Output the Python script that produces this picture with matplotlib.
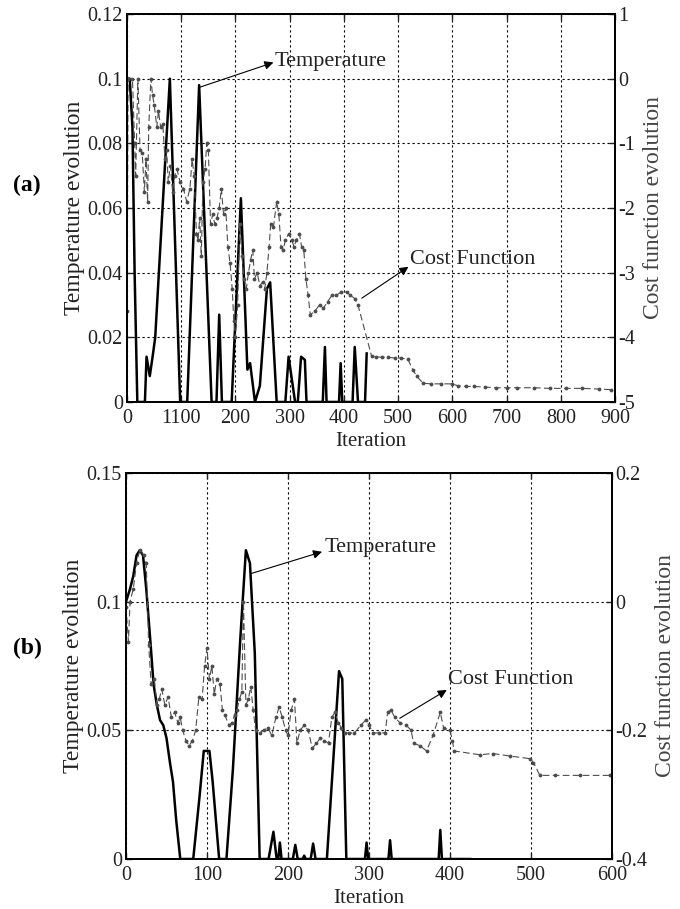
import matplotlib
matplotlib.use('Agg')
import matplotlib.pyplot as plt

plt.rcParams['font.family'] = ['Liberation Serif', 'DejaVu Serif']
plt.rcParams['font.size'] = 13

# ---- panel (a) data ----
temp_a_x = [0, 5, 10, 14, 19, 33, 36, 42, 48, 52, 79, 98, 111, 133, 156, 165,
            170, 175, 193, 210, 222, 227, 236, 245, 258, 264, 276, 292, 298,
            310, 315, 321, 328, 331, 361, 365, 368, 391, 394, 397, 416, 420,
            426, 439, 442]
temp_a_y = [0.1, 0.1, 0.085, 0.04, 0, 0, 0.014, 0.008, 0.015, 0.02, 0.1, 0, 0,
            0.098, 0, 0, 0.027, 0, 0, 0.063, 0.01, 0.012, 0, 0.005, 0.035,
            0.037, 0, 0, 0.014, 0, 0, 0.014, 0.013, 0, 0, 0.017, 0, 0, 0.012,
            0, 0, 0.017, 0, 0, 0.015]

cost_a_x = [0, 2, 10, 14, 16, 20, 24, 28, 32, 35, 38, 40, 44, 47, 50, 55, 58,
            62, 66, 70, 73, 76, 80, 84, 88, 92, 98, 104, 110, 116, 120, 124,
            128, 131, 134, 137, 140, 144, 147, 150, 154, 158, 162, 166, 170,
            174, 178, 182, 186, 190, 194, 197, 200, 204, 208, 212, 216, 220,
            224, 228, 232, 235, 240, 245, 250, 254, 258, 262, 265, 270, 276,
            280, 284, 288, 292, 298, 304, 308, 312, 318, 322, 326, 330, 334,
            338, 346, 355, 362, 370, 378, 386, 395, 405, 412, 420, 426, 451,
            460, 470, 482, 494, 505, 518, 527, 534, 546, 560, 580, 600, 610,
            625, 640, 660, 680, 700, 720, 750, 780, 810, 840, 870, 893]
cost_a_y = [-3.6, 0, 0, -1, -1.5, 0, -1.1, -1.15, -1.75, -1.25, -1.9, -0.75,
            0, -0.25, -0.4, -0.75, -0.5, -0.75, -0.7, -1.25, -1.1, -1.6, -1.35,
            -1.75, -1.5, -1.4, -1.6, -1.7, -1.9, -1.7, -1.25, -1.5, -2.4, -2.5,
            -2.15, -2.75, -1.6, -1.4, -1.0, -1.1, -2.25, -2.1, -2.25, -2.15,
            -2.0, -1.7, -2.1, -2.0, -2.6, -2.85, -3.25, -3.75, -4.0, -3.5,
            -2.25, -2.75, -3.1, -3.25, -3.0, -2.8, -2.65, -3.1, -3.0, -3.2,
            -3.15, -3.25, -3.0, -2.6, -2.25, -2.3, -1.9, -2.1, -2.6, -2.65,
            -2.5, -2.4, -2.5, -2.6, -2.5, -2.4, -2.6, -2.65, -3.1, -3.35,
            -3.65, -3.6, -3.5, -3.55, -3.45, -3.35, -3.35, -3.3, -3.3, -3.35,
            -3.4, -3.5, -4.29, -4.3, -4.31, -4.31, -4.32, -4.32, -4.34, -4.5,
            -4.6, -4.71, -4.72, -4.72, -4.72, -4.75, -4.76, -4.76, -4.77,
            -4.78, -4.78, -4.78, -4.78, -4.79, -4.79, -4.79, -4.8, -4.81]

xticks_a = [0, 100, 200, 300, 400, 500, 600, 700, 800, 900]
xlabels_a = ['0', '1100', '200', '300', '400', '500', '600', '700', '800', '900']
lticks_a = [0, 0.02, 0.04, 0.06, 0.08, 0.1, 0.12]
llabels_a = ['0', '0.02', '0.04', '0.06', '0.08', '0.1', '0.12']
rticks_a = [-5, -4, -3, -2, -1, 0, 1]

# ---- panel (b) data ----
temp_b_x = [0, 5, 9, 13, 17, 21, 25, 30, 34, 38, 42, 46, 50, 54, 58, 62, 67,
            83, 91, 96, 103, 107, 115, 124, 132, 141, 148, 153, 159, 165, 176,
            182, 186, 188, 190, 192, 206, 209, 212, 218, 220, 222, 228, 231,
            234, 248, 263, 267, 272, 295, 297, 299, 324, 326, 328, 386, 388,
            390, 425]
temp_b_y = [0.1, 0.105, 0.11, 0.118, 0.12, 0.118, 0.105, 0.085, 0.068, 0.06,
            0.054, 0.052, 0.047, 0.038, 0.03, 0.015, 0, 0, 0.025, 0.042, 0.042,
            0.03, 0, 0, 0.035, 0.085, 0.12, 0.115, 0.08, 0, 0, 0.0106, 0, 0,
            0.0064, 0, 0, 0.0055, 0, 0, 0.0013, 0, 0, 0.006, 0, 0, 0.073,
            0.07, 0, 0, 0.0064, 0, 0, 0.0073, 0, 0, 0.0113, 0, 0]

cost_b_x = [0, 3, 5, 9, 13, 17, 22, 25, 28, 31, 35, 38, 41, 44, 48, 52, 56,
            60, 64, 67, 70, 74, 78, 82, 86, 90, 94, 97, 100, 103, 106, 109,
            112, 116, 119, 122, 127, 131, 134, 137, 140, 143, 145, 148, 151,
            154, 157, 160, 165, 170, 175, 180, 185, 189, 193, 197, 200, 204,
            208, 211, 215, 220, 225, 230, 235, 240, 245, 250, 254, 258, 262,
            266, 270, 275, 282, 290, 296, 300, 305, 312, 320, 323, 327, 332,
            338, 346, 352, 355, 363, 371, 379, 388, 392, 400, 403, 405, 437,
            453, 474, 499, 503, 511, 530, 560, 598]
cost_b_y = [-0.008, -0.062, 0.0, 0.02, 0.06, 0.08, 0.072, 0.06, -0.068,
            -0.128, -0.12, -0.16, -0.152, -0.136, -0.16, -0.148, -0.18,
            -0.172, -0.188, -0.18, -0.2, -0.216, -0.224, -0.216, -0.2, -0.148,
            -0.152, -0.1, -0.072, -0.12, -0.1, -0.144, -0.12, -0.128, -0.168,
            -0.176, -0.192, -0.188, -0.176, -0.168, -0.152, -0.14, 0.0, -0.16,
            -0.152, -0.132, -0.168, -0.2, -0.204, -0.2, -0.196, -0.208, -0.18,
            -0.164, -0.18, -0.2, -0.208, -0.168, -0.152, -0.22, -0.2, -0.192,
            -0.2, -0.228, -0.22, -0.212, -0.216, -0.22, -0.18, -0.172, -0.188,
            -0.196, -0.204, -0.204, -0.204, -0.192, -0.184, -0.192, -0.204,
            -0.204, -0.204, -0.172, -0.168, -0.18, -0.188, -0.192, -0.2, -0.22,
            -0.224, -0.232, -0.208, -0.172, -0.196, -0.2, -0.216, -0.232,
            -0.238, -0.236, -0.24, -0.244, -0.25, -0.27, -0.27, -0.27, -0.27]

xticks_b = [0, 100, 200, 300, 400, 500, 600]
lticks_b = [0, 0.05, 0.1, 0.15]
llabels_b = ['0', '0.05', '0.1', '0.15']
rticks_b = [-0.4, -0.2, 0, 0.2]
rlabels_b = ['-0.4', '-0.2', '0', '0.2']

gray = '#4d4d4d'


def setup(ax1, ax2, xmax, xt, xl, lt, ll, lmax, rt, rl, rmin, rmax):
    ax1.set_xlim(0, xmax)
    ax1.set_ylim(0, lmax)
    ax2.set_ylim(rmin, rmax)
    ax1.set_xticks(xt)
    ax1.set_xticklabels(xl)
    ax1.set_yticks(lt)
    ax1.set_yticklabels(ll)
    ax2.set_yticks(rt)
    ax2.set_yticklabels(rl)
    ax1.grid(True, color='black', linestyle=(0, (2, 2.5)), linewidth=0.8)
    ax1.tick_params(direction='in', length=4, width=1, top=True, right=False,
                    labelsize=14.5, colors='#222222')
    ax1.tick_params(axis='x', pad=5)
    ax1.tick_params(axis='y', pad=3)
    ax2.tick_params(direction='in', length=4, width=1, labelsize=14.5, pad=2,
                    colors='#222222')
    # bottom right label sits slightly high, as in the source
    ax2.get_yticklabels()[0].set_va('center_baseline')
    for a in (ax1, ax2):
        for s in a.spines.values():
            s.set_linewidth(1.3)
    ax1.set_xlabel('Iteration', fontsize=15, labelpad=3, color='#222222')
    ax1.set_ylabel('Temperature evolution', fontsize=17, labelpad=2,
                   color='#222222')
    ax2.set_ylabel('Cost function evolution', fontsize=17, labelpad=6,
                   color='#444444')


def arrow(ax, tail, head, text, tx, ty):
    ax.annotate('', xy=head, xytext=tail,
                arrowprops=dict(arrowstyle='-|>', color='black', lw=0.8,
                                mutation_scale=13, shrinkA=0, shrinkB=0))
    ax.text(tx, ty, text, fontsize=16, va='center', ha='left',
            color='#222222')


fig = plt.figure(figsize=(6.8, 9.09), dpi=100)

# panel (a)
ax1 = fig.add_axes([0.1868, 0.5578, 0.7176, 0.4268])
ax2 = ax1.twinx()
ax1.plot(temp_a_x, temp_a_y, color='black', lw=1.8)
ax2.plot(cost_a_x, cost_a_y, color=gray, lw=0.8, linestyle=(0, (6, 3)),
         marker='.', markersize=3.5)
setup(ax1, ax2, 900, xticks_a, xlabels_a, lticks_a, llabels_a, 0.12,
      rticks_a, [str(v) for v in rticks_a], -5, 1)
arrow(ax1, (135, 0.0974), (270, 0.105), 'Temperature', 272, 0.1052)
arrow(ax1, (433, 0.0321), (519, 0.0418), 'Cost Function', 522, 0.0442)
fig.text(0.04, 1 - 185 / 909, '(a)', fontsize=17, fontweight='bold',
         ha='center', va='center')

# panel (b)
bx1 = fig.add_axes([0.1853, 0.055, 0.7147, 0.4246])
bx2 = bx1.twinx()
bx1.plot(temp_b_x, temp_b_y, color='black', lw=1.8)
bx2.plot(cost_b_x, cost_b_y, color=gray, lw=0.8, linestyle=(0, (6, 3)),
         marker='.', markersize=3.5)
setup(bx1, bx2, 600, xticks_b, [str(v) for v in xticks_b], lticks_b,
      llabels_b, 0.15, rticks_b, rlabels_b, -0.4, 0.2)
arrow(bx1, (155, 0.111), (242, 0.1194), 'Temperature', 245, 0.1209)
arrow(bx1, (338, 0.0547), (396, 0.0657), 'Cost Function', 398, 0.0696)
fig.text(0.04, 1 - 648 / 909, '(b)', fontsize=17, fontweight='bold',
         ha='center', va='center')

fig.savefig('out.png', dpi=100)
